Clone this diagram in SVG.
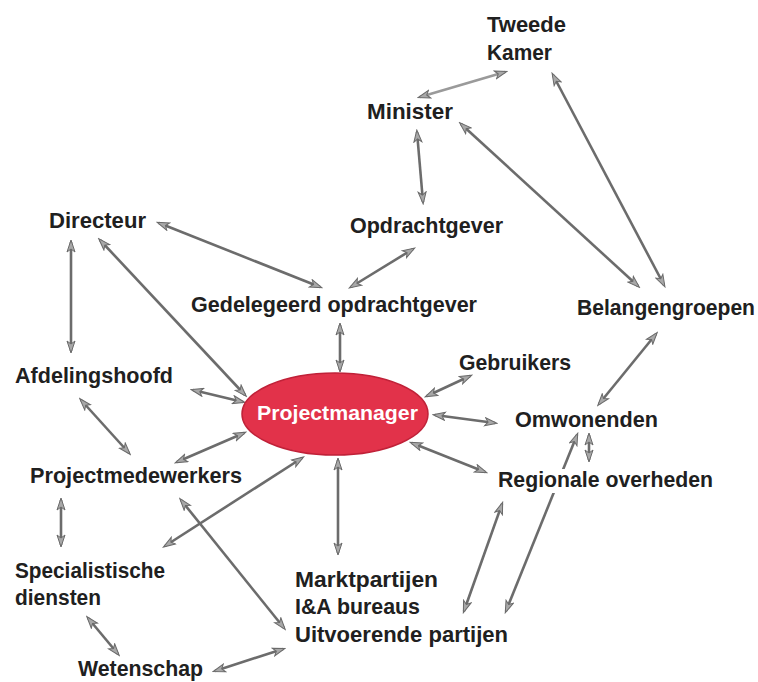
<svg xmlns="http://www.w3.org/2000/svg" width="758" height="682" viewBox="0 0 758 682">
<style>
.t{font-family:"Liberation Sans",Arial,sans-serif;font-weight:bold;font-size:21.5px;fill:#202020}
.pm{font-family:"Liberation Sans",Arial,sans-serif;font-weight:bold;font-size:20px;fill:#ffffff}
.c line{stroke:#6c6c6c;stroke-width:2.6;marker-start:url(#ah);marker-end:url(#ah)}
.c line.l{stroke:#9a9a9a}
</style>
<defs>
<marker id="ah" markerUnits="userSpaceOnUse" markerWidth="14" markerHeight="10" viewBox="0 0 14 10" refX="11" refY="5" orient="auto-start-reverse">
<path d="M1,1 L13,5 L1,9 L4,5 z" fill="#a8a8a8" stroke="#6a6a6a" stroke-width="1"/>
</marker>
</defs>
<rect width="758" height="682" fill="#ffffff"/>
<g id="connectors" class="c">
<line class="l" x1="505" y1="72" x2="420" y2="97"/>
<line x1="417" y1="132" x2="423" y2="202"/>
<line x1="461" y1="124" x2="638" y2="286"/>
<line x1="553" y1="75" x2="664" y2="285"/>
<line x1="159" y1="223" x2="320" y2="287"/>
<line x1="413" y1="249" x2="351" y2="287"/>
<line x1="71" y1="242" x2="71" y2="351"/>
<line x1="100" y1="240" x2="245" y2="395"/>
<line x1="340" y1="325" x2="340" y2="370"/>
<line x1="193" y1="390" x2="243" y2="402"/>
<line x1="81" y1="400" x2="129" y2="453"/>
<line x1="177" y1="462" x2="244" y2="433"/>
<line x1="61" y1="500" x2="61" y2="545"/>
<line x1="165" y1="546" x2="302" y2="458"/>
<line x1="181" y1="500" x2="284" y2="628"/>
<line x1="338" y1="460" x2="338" y2="553"/>
<line x1="88" y1="618" x2="118" y2="654"/>
<line x1="215" y1="671" x2="283" y2="649"/>
<line x1="502" y1="504" x2="464" y2="611"/>
<line x1="577" y1="435" x2="506" y2="611"/>
<line x1="589" y1="435" x2="589" y2="460"/>
<line x1="435" y1="415" x2="495" y2="423"/>
<line x1="412" y1="443" x2="485" y2="472"/>
<line x1="427" y1="396" x2="470" y2="376"/>
<line x1="656" y1="334" x2="599" y2="404"/>
</g>
<g id="tweede-kamer"><text class="t" x="487" y="32" textLength="79" lengthAdjust="spacingAndGlyphs">Tweede</text><text class="t" x="487" y="60" textLength="65" lengthAdjust="spacingAndGlyphs">Kamer</text></g>
<g id="minister"><text class="t" x="367" y="119" textLength="86" lengthAdjust="spacingAndGlyphs">Minister</text></g>
<g id="opdrachtgever"><text class="t" x="350" y="233" textLength="153" lengthAdjust="spacingAndGlyphs">Opdrachtgever</text></g>
<g id="directeur"><text class="t" x="49" y="228" textLength="97" lengthAdjust="spacingAndGlyphs">Directeur</text></g>
<g id="gedelegeerd-opdrachtgever"><text class="t" x="191" y="312" textLength="286" lengthAdjust="spacingAndGlyphs">Gedelegeerd opdrachtgever</text></g>
<g id="belangengroepen"><text class="t" x="577" y="315" textLength="178" lengthAdjust="spacingAndGlyphs">Belangengroepen</text></g>
<g id="afdelingshoofd"><text class="t" x="15" y="383" textLength="158" lengthAdjust="spacingAndGlyphs">Afdelingshoofd</text></g>
<g id="gebruikers"><text class="t" x="459" y="370" textLength="112" lengthAdjust="spacingAndGlyphs">Gebruikers</text></g>
<g id="projectmanager"><ellipse cx="335" cy="414" rx="93" ry="41" fill="#e2324a" stroke="#c02138" stroke-width="1.5"/><text class="pm" x="257" y="420" textLength="161" lengthAdjust="spacingAndGlyphs">Projectmanager</text></g>
<g id="omwonenden"><text class="t" x="515" y="427" textLength="143" lengthAdjust="spacingAndGlyphs">Omwonenden</text></g>
<g id="projectmedewerkers"><text class="t" x="30" y="483" textLength="212" lengthAdjust="spacingAndGlyphs">Projectmedewerkers</text></g>
<g id="regionale-overheden"><rect x="496" y="469" width="220" height="24" fill="#ffffff"/><text class="t" x="498" y="487" textLength="215" lengthAdjust="spacingAndGlyphs">Regionale overheden</text></g>
<g id="specialistische-diensten"><text class="t" x="15" y="578" textLength="150" lengthAdjust="spacingAndGlyphs">Specialistische</text><text class="t" x="15" y="605" textLength="86" lengthAdjust="spacingAndGlyphs">diensten</text></g>
<g id="marktpartijen"><text class="t" x="295" y="587" textLength="143" lengthAdjust="spacingAndGlyphs">Marktpartijen</text><text class="t" x="295" y="614" textLength="125" lengthAdjust="spacingAndGlyphs">I&amp;A bureaus</text><text class="t" x="295" y="642" textLength="213" lengthAdjust="spacingAndGlyphs">Uitvoerende partijen</text></g>
<g id="wetenschap"><text class="t" x="78" y="676" textLength="125" lengthAdjust="spacingAndGlyphs">Wetenschap</text></g>
</svg>
